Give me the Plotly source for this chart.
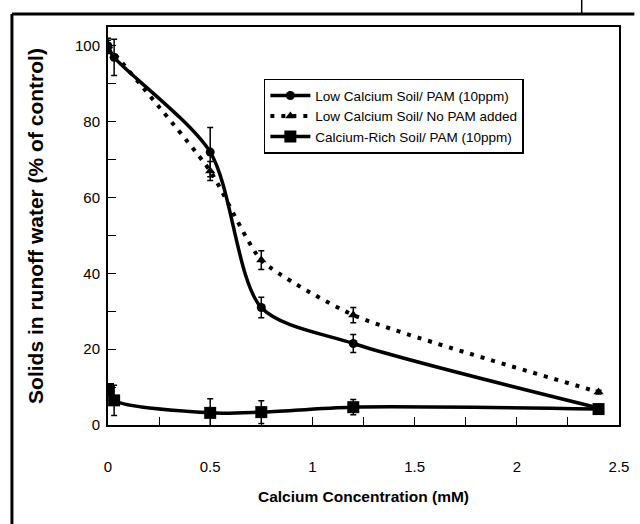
import plotly.graph_objects as go

# ---- data ----
low_pam_x = [0, 0.03, 0.5, 0.75, 1.2, 2.4]
low_pam_y = [100, 97, 72, 31, 21.5, 4.5]
low_pam_err = [1.5, 4.8, 6.5, 2.7, 2.4, 0.5]

low_nopam_x = [0, 0.5, 0.75, 1.2, 2.4]
low_nopam_y = [100, 67, 43.5, 29, 8.7]
low_nopam_err = [2, 2.5, 2.5, 2, 0.5]

carich_x = [0, 0.03, 0.5, 0.75, 1.2, 2.4]
carich_y = [9.5, 6.5, 3.2, 3.4, 4.7, 4.2]
carich_err = [0, 4, 3.7, 3, 2, 0.5]

x_tick_vals = [0, 0.5, 1, 1.5, 2, 2.5]
x_tick_text = ["0", "0.5", "1", "1.5", "2", "2.5"]
y_tick_vals = [0, 20, 40, 60, 80, 100]

FONT = "Arial, Liberation Sans, sans-serif"

fig = go.Figure()

fig.add_trace(go.Scatter(
    x=low_pam_x, y=low_pam_y, name="Low Calcium Soil/ PAM (10ppm)",
    mode="lines+markers", line=dict(color="black", width=3.5, shape="spline", smoothing=0.8),
    marker=dict(symbol="circle", size=9, color="black"),
    error_y=dict(type="data", array=low_pam_err, color="black", thickness=1.5, width=3),
))
fig.add_trace(go.Scatter(
    x=low_nopam_x, y=low_nopam_y, name="Low Calcium Soil/ No PAM added",
    mode="lines+markers", line=dict(color="black", width=4, dash="4px,7px", shape="spline", smoothing=0.55),
    marker=dict(symbol="triangle-up", size=9, color="black"),
    error_y=dict(type="data", array=low_nopam_err, color="black", thickness=1.5, width=3),
))
fig.add_trace(go.Scatter(
    x=carich_x, y=carich_y, name="Calcium-Rich Soil/ PAM (10ppm)",
    mode="lines+markers", line=dict(color="black", width=3.5, shape="spline", smoothing=0.8),
    marker=dict(symbol="square", size=12, color="black"),
    error_y=dict(type="data", array=carich_err, color="black", thickness=1.5, width=3),
))

fig.update_layout(
    width=640, height=524,
    margin=dict(l=108, r=11, t=27, b=99),
    paper_bgcolor="white", plot_bgcolor="white",
    font=dict(family=FONT, color="black", size=13),
    showlegend=True,
    legend=dict(
        x=0.305, y=0.87, xanchor="left", yanchor="top",
        bgcolor="white", bordercolor="black", borderwidth=1.5,
        font=dict(family=FONT, size=13.5, color="black"),
        itemwidth=40, tracegroupgap=0,
    ),
    xaxis=dict(
        range=[0, 2.5], tickvals=x_tick_vals, ticktext=x_tick_text,
        showline=True, linecolor="black", linewidth=2, mirror=True,
        ticks="inside", ticklen=8, tickcolor="black", tickwidth=1,
        minor=dict(dtick=0.25, ticks="inside", ticklen=8, tickcolor="black", tickwidth=1),
        showgrid=False, zeroline=False,
        ticklabelstandoff=27,
        tickfont=dict(family=FONT, size=15, color="black"),
        title=dict(text="<b>Calcium Concentration (mM)</b>", standoff=17,
                   font=dict(family=FONT, size=15.5, color="black")),
    ),
    yaxis=dict(
        range=[0, 105], tickvals=y_tick_vals,
        showline=True, linecolor="black", linewidth=2, mirror=True,
        ticks="inside", ticklen=8, tickcolor="black", tickwidth=1,
        minor=dict(dtick=10, ticks="inside", ticklen=8, tickcolor="black", tickwidth=1),
        showgrid=False, zeroline=False,
        ticklabelstandoff=3,
        tickfont=dict(family=FONT, size=15, color="black"),
        title=dict(text="<b>Solids in runoff water (% of control)</b>", standoff=26,
                   font=dict(family=FONT, size=21, color="black")),
    ),
    shapes=[
        # outer frame (left and top) of the scanned figure
        dict(type="line", xref="paper", yref="paper", x0=-0.188, x1=-0.188, y0=1.0327, y1=-0.26,
             line=dict(color="black", width=3)),
        dict(type="line", xref="paper", yref="paper", x0=-0.188, x1=1.03, y0=1.0327, y1=1.0327,
             line=dict(color="black", width=3)),
        dict(type="line", xref="paper", yref="paper", x0=0.927, x1=0.927, y0=1.0327, y1=1.07,
             line=dict(color="black", width=1.5)),
    ],
)

fig.write_html("out.html", config={"displayModeBar": False},
               post_script="document.body.style.margin='0';")
